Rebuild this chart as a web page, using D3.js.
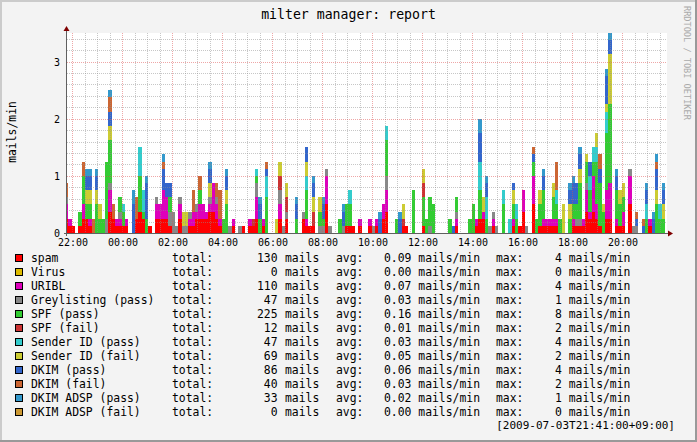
<!DOCTYPE html>
<html>
<head>
<meta charset="utf-8">
<script src="https://cdn.jsdelivr.net/npm/d3@7"></script>
<style>
  html, body { margin: 0; padding: 0; background: #f3f3f3; }
  svg { display: block; }
  text { font-family: "DejaVu Sans Mono", monospace; fill: #000; }
</style>
</head>
<body>
<svg id="chart" width="697" height="442"></svg>
<script>
// rrd step: values are mails counted per 8 minute step, drawn as mails/min
const STEP_MIN = 8;
const firstBin = new Date(2009, 6, 2, 21, 42, 30);
const viewStart = new Date(2009, 6, 2, 21, 47, 15);
const viewEnd = new Date(2009, 6, 3, 21, 47, 15);

const seriesNames = ['spam', 'Virus', 'URIBL', 'Greylisting (pass)', 'SPF (pass)', 'SPF (fail)',
  'Sender ID (pass)', 'Sender ID (fail)', 'DKIM (pass)', 'DKIM (fail)', 'DKIM ADSP (pass)', 'DKIM ADSP (fail)'];
const seriesColors = ['#ff0000', '#ddbb00', '#dd00bb', '#888888', '#33cc33', '#cc3333',
  '#33cccc', '#cccc33', '#3366cc', '#cc6633', '#3399cc', '#cc9933'];

const spam = [
  2,1,1,0,1,2,2,1,0,0,0,0,0,3,2,1,1,1,1,0,
  0,2,3,2,0,1,0,2,2,2,2,1,0,0,2,0,0,1,1,2,
  2,2,2,3,3,2,1,0,0,0,1,0,0,1,0,1,1,2,0,1,
  0,0,0,0,2,0,2,0,0,0,0,2,1,1,1,0,0,0,4,0,
  0,0,0,0,1,1,1,0,1,0,0,1,0,1,0,2,3,0,0,0,
  0,1,1,0,0,0,0,1,0,0,0,0,0,0,0,0,0,1,0,0,
  0,0,0,1,2,2,0,0,1,0,0,0,0,0,1,0,1,3,0,0,
  4,0,1,1,1,1,1,1,0,0,0,0,1,1,1,1,3,2,3,2,
  1,0,2,2,0,1,1,1,0,4,0,0,0,0,0,1,0,0,0,0];
const virus = [
  0,0,0,0,0,0,0,0,0,0,0,0,0,0,0,0,0,0,0,0,
  0,0,0,0,0,0,0,0,0,0,0,0,0,0,0,0,0,0,0,0,
  0,0,0,0,0,0,0,0,0,0,0,0,0,0,0,0,0,0,0,0,
  0,0,0,0,0,0,0,0,0,0,0,0,0,0,0,0,0,0,0,0,
  0,0,0,0,0,0,0,0,0,0,0,0,0,0,0,0,0,0,0,0,
  0,0,0,0,0,0,0,0,0,0,0,0,0,0,0,0,0,0,0,0,
  0,0,0,0,0,0,0,0,0,0,0,0,0,0,0,0,0,0,0,0,
  0,0,0,0,0,0,0,0,0,0,0,0,0,0,0,0,0,0,0,0,
  0,0,0,0,0,0,0,0,0,0,0,0,0,0,0,0,0,0,0,0];
const uribl = [
  2,1,0,0,0,2,0,1,0,0,0,0,0,3,0,1,1,0,1,0,
  0,0,0,0,0,0,0,2,2,4,3,0,0,0,2,0,0,1,2,1,
  2,2,1,1,4,2,1,0,0,0,1,0,0,0,0,1,0,3,0,1,
  0,0,0,0,2,0,0,0,0,0,0,0,1,0,0,0,0,0,4,0,
  0,0,0,0,0,0,0,0,1,0,0,1,0,1,0,2,3,0,0,0,
  0,0,0,0,0,0,0,0,0,0,0,0,0,0,0,0,0,1,0,0,
  0,0,0,1,0,1,0,0,1,0,0,0,0,0,1,0,0,3,0,0,
  4,0,0,1,1,1,1,1,0,0,0,0,1,0,0,1,3,1,5,2,
  0,0,4,5,0,1,0,2,0,4,0,0,0,0,0,1,0,0,0,0];
const greylist = [
  1,0,0,0,0,0,0,0,0,0,0,0,2,1,0,0,1,0,0,0,
  0,0,0,0,0,0,0,1,0,0,0,2,3,1,1,1,1,1,0,1,
  0,0,0,1,0,1,0,0,0,1,0,0,1,0,0,0,0,2,0,0,
  0,0,0,0,2,1,1,0,0,0,0,1,0,0,0,0,1,1,1,1,
  0,0,0,1,0,0,0,0,0,0,0,0,1,0,0,0,2,0,0,0,
  0,0,0,0,0,0,0,0,0,1,0,0,0,0,0,0,0,1,0,0,
  0,0,0,0,0,0,0,1,1,1,0,0,0,0,0,0,0,0,1,0,
  0,0,0,0,0,0,0,0,0,0,0,0,0,1,1,0,1,0,0,0,
  0,0,0,0,0,0,0,0,0,1,1,1,0,0,0,0,0,0,0,0];
const spfPass = [
  0,0,0,0,2,4,2,2,0,4,2,2,8,6,0,0,2,2,0,0,
  0,0,5,1,2,0,0,0,0,0,0,2,0,0,0,0,0,0,0,0,
  2,0,0,0,0,0,0,2,4,0,0,0,0,0,0,0,0,1,2,0,
  5,0,0,0,0,0,0,0,0,2,0,0,4,0,0,0,2,1,0,0,
  0,0,2,0,3,3,0,0,0,0,0,0,0,0,0,0,5,0,0,2,
  0,0,0,0,6,0,0,4,2,4,4,0,0,0,0,2,0,2,0,0,
  0,2,4,0,4,0,2,0,0,0,0,4,0,0,2,2,0,0,0,0,
  2,2,3,4,0,0,3,2,2,0,0,2,2,2,5,0,3,3,2,6,
  6,3,8,11,0,4,3,2,0,0,0,0,0,0,2,0,0,4,2,2];
const spfFail = [
  0,0,0,0,0,0,0,0,0,0,0,0,0,0,0,0,0,0,0,0,
  0,0,0,0,0,0,0,0,0,0,0,0,0,0,0,0,0,0,0,0,
  0,0,0,0,0,0,0,0,0,0,0,0,0,0,0,0,1,0,0,0,
  0,0,0,0,2,0,2,0,0,0,0,0,0,0,2,0,0,0,0,0,
  0,0,0,0,0,0,0,0,0,0,0,0,0,0,0,0,0,0,0,0,
  0,1,0,0,0,0,0,2,0,0,0,0,0,0,0,0,0,0,0,0,
  0,0,0,0,0,0,0,0,0,0,0,0,0,0,0,0,0,0,0,0,
  0,0,0,0,0,0,0,0,0,0,0,0,0,0,0,0,0,0,0,0,
  0,0,0,0,0,0,0,0,0,0,0,0,0,0,0,0,0,0,0,0];
const sidPass = [
  0,0,0,0,0,0,0,0,0,0,0,0,0,0,0,0,0,1,0,0,
  0,0,4,3,0,0,0,0,0,0,0,0,0,0,0,0,0,0,0,0,
  0,0,0,0,0,0,0,0,0,0,0,0,0,0,0,0,0,1,0,0,
  3,0,0,0,0,0,0,0,0,0,0,0,2,0,0,0,0,0,0,0,
  0,0,0,0,0,2,0,0,0,0,0,0,0,0,0,0,2,0,0,0,
  0,0,0,0,0,0,0,0,0,0,0,0,0,0,0,0,0,0,0,0,
  0,0,0,0,4,0,3,0,0,0,0,2,0,2,0,2,0,0,0,0,
  0,0,0,0,0,0,0,2,0,0,0,0,0,0,0,0,0,2,2,2,
  0,0,3,0,0,0,0,0,0,0,0,0,0,0,2,0,0,0,2,0];
const sidFail = [
  0,0,0,0,0,0,2,2,0,2,2,0,0,2,0,0,0,0,0,0,
  0,0,0,0,0,0,0,0,0,0,0,0,0,0,0,2,2,0,0,0,
  0,0,0,2,0,0,0,0,2,0,0,0,0,0,0,0,0,0,0,0,
  0,0,0,2,2,0,2,0,0,0,0,0,2,0,2,0,2,0,0,0,
  0,0,0,0,0,0,0,0,0,0,0,0,0,0,0,0,0,0,0,0,
  0,2,0,0,0,0,0,2,0,0,0,0,0,0,0,0,0,0,0,0,
  0,0,0,0,0,2,0,0,0,0,0,0,0,0,2,0,0,0,0,0,
  0,0,2,0,0,0,2,0,0,4,0,2,0,0,2,0,1,0,0,2,
  0,1,1,7,0,0,2,2,0,0,0,0,0,0,0,0,0,2,0,2];
const dkimPass = [
  0,0,0,0,0,0,2,2,0,2,0,0,0,2,0,0,0,0,0,0,
  4,0,0,0,5,0,0,0,0,3,2,2,0,0,0,0,0,0,0,0,
  0,0,0,2,0,0,0,0,2,0,0,0,0,0,0,0,0,0,2,0,
  1,0,0,0,0,0,0,0,0,2,0,0,2,0,2,0,0,2,0,0,
  0,0,0,2,0,0,0,0,0,0,0,0,0,0,2,0,0,0,0,0,
  2,0,0,0,0,0,0,0,0,0,0,0,0,0,0,0,1,0,0,0,
  0,0,0,0,4,0,2,0,0,0,0,0,0,0,1,0,0,0,0,0,
  1,0,0,2,0,0,0,0,0,0,0,2,3,3,2,0,0,2,0,0,
  2,0,4,2,0,2,0,0,0,0,0,1,0,1,2,0,2,3,0,2];
const dkimFail = [
  2,0,0,0,0,2,0,0,2,0,0,0,0,2,2,0,0,0,0,0,
  0,3,0,0,0,0,0,0,0,1,0,0,0,0,0,0,0,0,3,0,
  2,0,0,0,0,2,4,0,0,0,0,0,0,0,0,0,0,0,0,0,
  1,0,0,0,0,0,0,0,0,0,0,0,0,0,0,0,0,0,0,0,
  0,0,0,0,0,0,0,0,0,0,0,0,0,0,0,0,0,0,0,0,
  0,0,0,0,0,0,0,0,0,0,0,0,0,0,0,0,0,0,0,0,
  0,0,0,0,0,0,0,0,0,0,0,0,0,0,0,0,0,0,0,0,
  1,0,0,0,0,0,0,4,0,0,0,0,0,0,0,0,0,0,0,0,
  2,0,0,0,0,0,0,0,0,0,0,1,0,1,0,0,0,1,0,0];
const adspPass = [
  0,0,0,0,0,0,1,1,0,1,0,0,0,1,0,0,0,0,0,0,
  2,0,0,0,1,0,0,0,0,1,0,0,0,0,0,0,0,0,0,0,
  0,0,0,1,0,0,0,0,1,0,0,0,0,0,0,0,0,0,1,0,
  0,0,0,0,0,0,0,0,0,1,0,0,0,0,1,0,0,1,0,0,
  0,0,0,1,0,0,0,0,0,0,0,0,0,0,1,0,0,0,0,0,
  1,0,0,0,0,0,0,0,0,0,0,0,0,0,0,0,0,0,0,0,
  0,0,0,0,2,0,1,0,0,0,0,0,0,0,0,0,0,0,0,0,
  0,0,0,1,0,0,0,0,0,0,0,1,1,0,1,0,0,0,0,0,
  0,0,1,1,0,1,0,0,0,0,0,0,0,0,1,0,1,1,0,1];
const adspFail = [
  0,0,0,0,0,0,0,0,0,0,0,0,0,0,0,0,0,0,0,0,
  0,0,0,0,0,0,0,0,0,0,0,0,0,0,0,0,0,0,0,0,
  0,0,0,0,0,0,0,0,0,0,0,0,0,0,0,0,0,0,0,0,
  0,0,0,0,0,0,0,0,0,0,0,0,0,0,0,0,0,0,0,0,
  0,0,0,0,0,0,0,0,0,0,0,0,0,0,0,0,0,0,0,0,
  0,0,0,0,0,0,0,0,0,0,0,0,0,0,0,0,0,0,0,0,
  0,0,0,0,0,0,0,0,0,0,0,0,0,0,0,0,0,0,0,0,
  0,0,0,0,0,0,0,0,0,0,0,0,0,0,0,0,0,0,0,0,
  0,0,0,0,0,0,0,0,0,0,0,0,0,0,0,0,0,0,0,0];

// legend figures printed by rrdtool
const totals = [130, 0, 110, 47, 225, 12, 47, 69, 86, 40, 33, 0];
const avgs = ['0.09', '0.00', '0.07', '0.03', '0.16', '0.01', '0.03', '0.05', '0.06', '0.03', '0.02', '0.00'];
const maxes = [4, 0, 4, 1, 8, 2, 4, 2, 4, 2, 1, 0];
const yTicks = [0, 1, 2, 3];
const title = 'milter manager: report';
const yTitle = 'mails/min';
const watermark = 'RRDTOOL / TOBI OETIKER';
const lastUpdate = '[2009-07-03T21:41:00+09:00]';

const counts = [spam, virus, uribl, greylist, spfPass, spfFail,
  sidPass, sidFail, dkimPass, dkimFail, adspPass, adspFail];

const W = 697, H = 442;
const plot = { left: 67, right: 667, top: 33, bottom: 233 };
const $svg = d3.select('#chart');

const x = d3.scaleTime().domain([viewStart, viewEnd]).range([plot.left, plot.right]);
const y = d3.scaleLinear().domain([0, 3.5]).range([plot.bottom, plot.top]);

function drawFrame() {
	$svg.append('rect').attr('width', W).attr('height', H).attr('fill', '#f3f3f3');
	$svg.append('rect').attr('x', 0).attr('y', 0).attr('width', W).attr('height', 2).attr('fill', '#cbcbcb');
	$svg.append('rect').attr('x', 0).attr('y', 0).attr('width', 2).attr('height', H).attr('fill', '#cbcbcb');
	$svg.append('rect').attr('x', 0).attr('y', H - 2).attr('width', W).attr('height', 2).attr('fill', '#999999');
	$svg.append('rect').attr('x', W - 2).attr('y', 0).attr('width', 2).attr('height', H).attr('fill', '#999999');
	$svg.append('rect')
		.attr('x', plot.left).attr('y', plot.top)
		.attr('width', plot.right - plot.left).attr('height', plot.bottom - plot.top)
		.attr('fill', '#ffffff');
	$svg.append('clipPath').attr('id', 'plot-clip')
		.append('rect')
		.attr('x', plot.left - 1).attr('y', plot.top)
		.attr('width', plot.right - plot.left + 1).attr('height', plot.bottom - plot.top);
}

function drawBars() {
	const rows = spam.map((_, i) => {
		const row = { t0: d3.timeMinute.offset(firstBin, i * STEP_MIN) };
		counts.forEach((c, s) => { row[s] = c[i] / STEP_MIN; });
		return row;
	});
	const stacked = d3.stack().keys(d3.range(counts.length))(rows);

	const px = t => Math.round(x(t));
	const py = v => Math.round(y(v));

	$svg.append('g')
		.attr('clip-path', 'url(#plot-clip)')
		.attr('shape-rendering', 'crispEdges')
		.selectAll('g')
		.data(stacked)
		.join('g')
		.attr('fill', (d, i) => seriesColors[i])
		.selectAll('rect')
		.data(d => d.filter(p => p[1] > p[0]))
		.join('rect')
		.attr('x', p => px(p.data.t0))
		.attr('width', p => px(d3.timeMinute.offset(p.data.t0, STEP_MIN)) - px(p.data.t0))
		.attr('y', p => py(p[1]))
		.attr('height', p => py(p[0]) - py(p[1]));
}

function drawGrid() {
	const $grid = $svg.append('g').attr('shape-rendering', 'crispEdges').attr('stroke-dasharray', '1,1');
	const majorX = x.ticks(d3.timeHour.every(2)).map(t => +t);
	const minorX = x.ticks(d3.timeMinute.every(30)).filter(t => !majorX.includes(+t));
	const minorY = y.ticks(18).filter(v => v > 0 && Math.abs(v - Math.round(v)) > 1e-6);
	const majorY = yTicks.filter(v => v > 0);

	$grid.selectAll('line.minor-x').data(minorX).join('line')
		.attr('x1', t => Math.round(x(t)) + 0.5).attr('x2', t => Math.round(x(t)) + 0.5)
		.attr('y1', plot.top).attr('y2', plot.bottom)
		.attr('stroke', 'rgba(143,143,143,0.5)');
	$grid.selectAll('line.minor-y').data(minorY).join('line')
		.attr('x1', plot.left).attr('x2', plot.right)
		.attr('y1', v => Math.round(y(v)) + 0.5).attr('y2', v => Math.round(y(v)) + 0.5)
		.attr('stroke', 'rgba(143,143,143,0.5)');
	$grid.selectAll('line.major-x').data(majorX).join('line')
		.attr('x1', t => Math.round(x(t)) + 0.5).attr('x2', t => Math.round(x(t)) + 0.5)
		.attr('y1', plot.top).attr('y2', plot.bottom)
		.attr('stroke', 'rgba(222,80,80,0.5)');
	$grid.selectAll('line.major-y').data(majorY).join('line')
		.attr('x1', plot.left).attr('x2', plot.right)
		.attr('y1', v => Math.round(y(v)) + 0.5).attr('y2', v => Math.round(y(v)) + 0.5)
		.attr('stroke', 'rgba(222,80,80,0.5)');
}

function drawAxes() {
	const $axes = $svg.append('g').attr('shape-rendering', 'crispEdges');
	$axes.append('line')
		.attr('x1', plot.left - 3).attr('x2', plot.right + 2)
		.attr('y1', plot.bottom + 0.5).attr('y2', plot.bottom + 0.5)
		.attr('stroke', '#606060');
	$axes.append('line')
		.attr('x1', plot.left - 0.5).attr('x2', plot.left - 0.5)
		.attr('y1', plot.bottom + 3).attr('y2', plot.top - 2)
		.attr('stroke', '#606060');
	$svg.append('path')
		.attr('d', `M${plot.right + 1},${plot.bottom - 2.5}L${plot.right + 6},${plot.bottom + 0.5}L${plot.right + 1},${plot.bottom + 3.5}Z`)
		.attr('fill', '#7f0000');
	$svg.append('path')
		.attr('d', `M${plot.left - 3.5},${plot.top - 2}L${plot.left - 0.5},${plot.top - 7}L${plot.left + 2.5},${plot.top - 2}Z`)
		.attr('fill', '#7f0000');

	$svg.append('g').selectAll('text')
		.data(x.ticks(d3.timeHour.every(2)))
		.join('text')
		.attr('x', t => Math.round(x(t)) + 1)
		.attr('y', 246)
		.attr('text-anchor', 'middle')
		.style('font-size', '10px')
		.text(d3.timeFormat('%H:%M'));

	$svg.append('g').selectAll('text')
		.data(yTicks)
		.join('text')
		.attr('x', 60)
		.attr('y', v => Math.round(y(v)) + 4)
		.attr('text-anchor', 'end')
		.style('font-size', '10px')
		.text(v => v);
}

function drawTexts() {
	$svg.append('text')
		.attr('x', 348.5).attr('y', 18.5)
		.attr('text-anchor', 'middle')
		.style('font-size', '13.2px')
		.text(title);
	$svg.append('text')
		.attr('transform', 'translate(16,132) rotate(-90)')
		.attr('text-anchor', 'middle')
		.style('font-size', '11.4px')
		.text(yTitle);
	$svg.append('text')
		.attr('transform', 'translate(684,6) rotate(90)')
		.style('font-size', '8.6px')
		.style('fill', '#aaaaaa')
		.text(watermark);
}

function drawLegend() {
	const $row = $svg.append('g')
		.selectAll('g')
		.data(seriesNames)
		.join('g')
		.attr('transform', (d, i) => `translate(0,${262 + i * 14})`)
		.style('font-size', '11.4px');

	$row.append('rect')
		.attr('x', 15.5).attr('y', -7.5).attr('width', 7).attr('height', 7)
		.attr('fill', (d, i) => seriesColors[i])
		.attr('stroke', '#000');
	$row.append('text').attr('x', 31).text(d => d);
	$row.append('text').attr('x', 172).text('total:');
	$row.append('text').attr('x', 277.5).attr('text-anchor', 'end').text((d, i) => totals[i]);
	$row.append('text').attr('x', 285).text('mails');
	$row.append('text').attr('x', 336).text('avg:');
	$row.append('text').attr('x', 384).text((d, i) => `${avgs[i]} mails/min`);
	$row.append('text').attr('x', 496).text('max:');
	$row.append('text').attr('x', 555).text((d, i) => `${maxes[i]} mails/min`);

	$svg.append('text')
		.attr('x', 675).attr('y', 429)
		.attr('text-anchor', 'end')
		.style('font-size', '11px')
		.text(lastUpdate);
}

drawFrame();
drawBars();
drawGrid();
drawAxes();
drawTexts();
drawLegend();
</script>
</body>
</html>
